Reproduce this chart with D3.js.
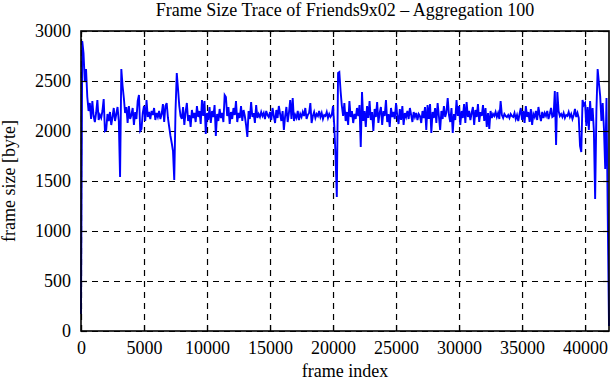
<!DOCTYPE html>
<html>
<head>
<meta charset="utf-8">
<script src="https://cdn.jsdelivr.net/npm/d3@7"></script>
<style>
  body { margin: 0; background: #fff; }
  text { font-family: "Liberation Serif", "Times New Roman", serif; fill: #000; }
</style>
</head>
<body>
<div id="chart"></div>
<script>
// Set values for SVG wrapper
var svgWidth = 611;
var svgHeight = 380;

var margin = {
  top: 31,
  right: 2,
  bottom: 49,
  left: 81
};

var width = svgWidth - margin.left - margin.right;
var height = svgHeight - margin.top - margin.bottom;

// chart data (one value per 100 aggregated frames)
var chartTitle = "Frame Size Trace of Friends9x02 \u2013 Aggregation 100";
var aggregation = 100;
var xTicks = [0, 5000, 10000, 15000, 20000, 25000, 30000, 35000, 40000];
var yTicks = [0, 500, 1000, 1500, 2000, 2500, 3000];
var frameSizes = [
  170, 2900, 2780, 2500, 2620, 2340, 2200, 2280, 2120, 2300,
  2150, 2090, 2180, 2310, 2110, 2160, 2130, 2200, 2320, 2000,
  2010, 2170, 2100, 2190, 2060, 2140, 2230, 2100, 2170, 2240,
  2100, 1540, 2620, 2450, 2330, 2180, 2240, 2080, 2250, 2120,
  2160, 2230, 2060, 2190, 2120, 2300, 2360, 2000, 2020, 2180,
  2250, 2100, 2310, 2140, 2190, 2120, 2200, 2160, 2230, 2110,
  2180, 2140, 2200, 2120, 2170, 2270, 2090, 2250, 2280, 2130,
  2040, 1950, 1880, 1800, 1510, 2200, 2580, 2420, 2250, 2150,
  2120, 2240, 2060, 2190, 2280, 2100, 2160, 2040, 2210, 2130,
  2180, 2090, 2250, 2140, 2200, 2070, 2310, 2150, 2300, 1970,
  2180, 2110, 2240, 2080, 2200, 2140, 2260, 1950, 2170, 2100,
  2220, 2130, 2180, 2090, 2360, 2340, 2150, 2240, 2070, 2190,
  2120, 2230, 2160, 2300, 2090, 2180, 2130, 2250, 2100, 2210,
  2150, 2060, 1940, 2200, 2120, 2290, 2140, 2180, 2080, 2260,
  2130, 2170, 2140, 2190, 2150, 2180, 2120, 2200, 2160, 2140,
  2190, 2110, 2230, 2150, 2080, 2210, 2130, 2250, 2170, 2100,
  2200, 2010, 2150, 2240, 2090, 2180, 2310, 2120, 2330, 2100,
  2160, 2130, 2200, 2110, 2170, 2140, 2190, 2150, 2230, 2120,
  2160, 2180, 2280, 2080, 2150, 2190, 2130, 2170, 2150, 2200,
  2140, 2180, 2120, 2160, 2150, 2190, 2130, 2170, 2140, 2160,
  2250, 2050, 1750, 1340, 2580, 2590, 2400, 2250, 2150, 2280,
  2100, 2190, 2060, 2300, 2140, 2200, 2080, 2170, 2120, 2230,
  2150, 2260, 1840, 2390, 2100, 2200, 2040, 2250, 2130, 2300,
  2110, 2190, 2000, 2220, 2140, 2290, 2080, 2180, 2240, 2060,
  2200, 2150, 2310, 2090, 2170, 2040, 2230, 2140, 2190, 2120,
  2280, 2150, 2070, 2220, 2110, 2250, 2060, 2180, 2140, 2200,
  2120, 2230, 2160, 2090, 2190, 2140, 2180, 2110, 2170, 2150,
  2080, 2200, 2130, 2240, 2010, 2260, 2120, 2270, 1980, 2190,
  2130, 2230, 2080, 2280, 2150, 2010, 2200, 2120, 2250, 2140,
  2190, 2330, 2160, 2090, 2230, 1980, 2170, 2110, 2310, 2150,
  2250, 2060, 2200, 2130, 2270, 2080, 2290, 2140, 2200, 2110,
  2180, 2240, 2060, 2210, 2140, 2270, 2090, 2190, 2150, 2260,
  2100, 2230, 2040, 2180, 2020, 2200, 2130, 2170, 2150, 2190,
  2140, 2180, 2120, 2300, 2160, 2130, 2170, 2150, 2140, 2160,
  2130, 2170, 2150, 2140, 2180, 2120, 2160, 2100, 2170, 2230,
  2110, 2200, 2080, 2250, 2140, 2190, 2090, 2220, 2060, 2170,
  2140, 2200, 2110, 2240, 2160, 2100, 2190, 2130, 2180, 2150,
  2200, 2120, 2170, 2230, 2140, 2150, 2400, 1860, 2390, 2200,
  2150, 2170, 2140, 2180, 2130, 2160, 2150, 2190, 2140, 2170,
  2120, 2160, 2220, 2140, 2180, 2130, 1850, 1790, 2310, 2260,
  2280, 2050, 2240, 2010, 2300, 2100, 2230, 2000, 1320, 2200,
  2620, 2480, 2350, 2100, 2280, 2020, 1620, 2330, 1160, 50
];

var svg = d3
  .select("#chart")
  .append("svg")
  .attr("width", svgWidth)
  .attr("height", svgHeight);

var chartGroup = svg.append("g")
  .attr("transform", `translate(${margin.left}, ${margin.top})`);

// scales
var xLinearScale = d3.scaleLinear()
  .domain([0, (frameSizes.length - 1) * aggregation])
  .range([0, width]);

var yLinearScale = d3.scaleLinear()
  .domain([0, 3000])
  .range([height, 0]);

// dashed grid
chartGroup.append("g")
  .attr("class", "grid")
  .attr("transform", `translate(0, ${height})`)
  .call(d3.axisBottom(xLinearScale).tickValues(xTicks).tickSize(-height).tickFormat(""))
  .call(g => g.select(".domain").remove());

chartGroup.append("g")
  .attr("class", "grid")
  .call(d3.axisLeft(yLinearScale).tickValues(yTicks).tickSize(-width).tickFormat(""))
  .call(g => g.select(".domain").remove());

chartGroup.selectAll(".grid line")
  .attr("stroke", "#000")
  .attr("stroke-width", 1)
  .attr("stroke-dasharray", "6,5");

// the trace
var traceLine = d3.line()
  .x((d, i) => xLinearScale(i * aggregation))
  .y(d => yLinearScale(d));

chartGroup.append("path")
  .datum(frameSizes)
  .attr("fill", "none")
  .attr("stroke", "#0000ff")
  .attr("stroke-width", 1.9)
  .attr("stroke-linejoin", "miter")
  .attr("d", traceLine);

// axes, ticks pointing inward on all four sides
var fmt = d3.format("d");
var bottomAxis = d3.axisBottom(xLinearScale).tickValues(xTicks).tickFormat(fmt).tickSizeInner(-6).tickSizeOuter(0).tickPadding(10);
var leftAxis = d3.axisLeft(yLinearScale).tickValues(yTicks).tickFormat(fmt).tickSizeInner(-6).tickSizeOuter(0).tickPadding(10);
var topAxis = d3.axisTop(xLinearScale).tickValues(xTicks).tickSizeInner(-6).tickSizeOuter(0).tickFormat("");
var rightAxis = d3.axisRight(yLinearScale).tickValues(yTicks).tickSizeInner(-6).tickSizeOuter(0).tickFormat("");

chartGroup.append("g")
  .attr("transform", `translate(0, ${height})`)
  .call(bottomAxis);
chartGroup.append("g")
  .call(leftAxis);
chartGroup.append("g")
  .call(topAxis);
chartGroup.append("g")
  .attr("transform", `translate(${width}, 0)`)
  .call(rightAxis);

chartGroup.selectAll(".tick text")
  .style("font-size", "18px")
  .style("font-family", "'Liberation Serif', 'Times New Roman', serif");
chartGroup.selectAll(".tick line")
  .attr("stroke-width", 1.2);
chartGroup.selectAll(".domain").remove();

// frame
chartGroup.append("rect")
  .attr("width", width)
  .attr("height", height)
  .attr("fill", "none")
  .attr("stroke", "#000")
  .attr("stroke-width", 1.6);

// title and axis labels
svg.append("text")
  .attr("x", margin.left + width / 2)
  .attr("y", 16)
  .attr("text-anchor", "middle")
  .style("font-size", "18px")
  .text(chartTitle);

svg.append("text")
  .attr("x", margin.left + width / 2)
  .attr("y", 377)
  .attr("text-anchor", "middle")
  .style("font-size", "18px")
  .text("frame index");

svg.append("text")
  .attr("transform", "rotate(-90)")
  .attr("x", 0 - (margin.top + height / 2))
  .attr("y", 15)
  .attr("text-anchor", "middle")
  .style("font-size", "18px")
  .text("frame size [byte]");
</script>
</body>
</html>
